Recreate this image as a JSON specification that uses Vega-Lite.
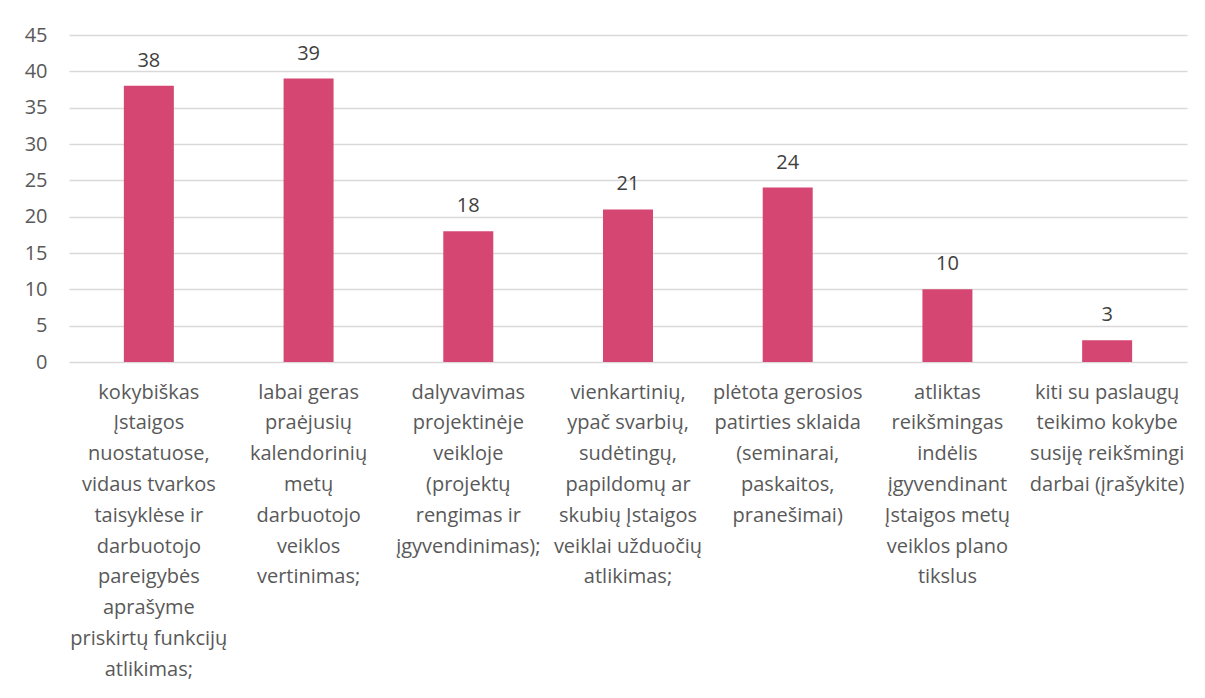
{
  "$schema": "https://vega.github.io/schema/vega-lite/v6.json",
  "width": 1118,
  "height": 327,
  "autosize": {"type": "none"},
  "padding": {"left": 69, "top": 35, "right": 18, "bottom": 336},
  "background": "white",
  "config": {
    "view": {"stroke": null},
    "font": "Open Sans"
  },
  "data": {
    "values": [
      {"category": "kokybiškas|Įstaigos|nuostatuose,|vidaus tvarkos|taisyklėse ir|darbuotojo|pareigybės|aprašyme|priskirtų funkcijų|atlikimas;", "value": 38},
      {"category": "labai geras|praėjusių|kalendorinių|metų|darbuotojo|veiklos|vertinimas;", "value": 39},
      {"category": "dalyvavimas|projektinėje|veikloje|(projektų|rengimas ir|įgyvendinimas);", "value": 18},
      {"category": "vienkartinių,|ypač svarbių,|sudėtingų,|papildomų ar|skubių Įstaigos|veiklai užduočių|atlikimas;", "value": 21},
      {"category": "plėtota gerosios|patirties sklaida|(seminarai,|paskaitos,|pranešimai)", "value": 24},
      {"category": "atliktas|reikšmingas|indėlis|įgyvendinant|Įstaigos metų|veiklos plano|tikslus", "value": 10},
      {"category": "kiti su paslaugų|teikimo kokybe|susiję reikšmingi|darbai (įrašykite)", "value": 3}
    ]
  },
  "encoding": {
    "x": {
      "field": "category",
      "type": "nominal",
      "sort": null,
      "scale": {"paddingInner": 0.687, "paddingOuter": 0.3435},
      "axis": {
        "title": null,
        "domain": false,
        "ticks": false,
        "labelAngle": 0,
        "labelExpr": "split(datum.value, '|')",
        "labelFontSize": 20,
        "labelLineHeight": 30.8,
        "labelColor": "#595959",
        "labelPadding": 20,
        "labelBaseline": "top",
        "labelLimit": 0,
        "labelOverlap": false,
        "labelBound": false
      }
    },
    "y": {
      "field": "value",
      "type": "quantitative",
      "scale": {"domain": [0, 45], "nice": false},
      "axis": {
        "title": null,
        "values": [0, 5, 10, 15, 20, 25, 30, 35, 40, 45],
        "domain": false,
        "ticks": false,
        "gridColor": "#d9d9d9",
        "gridWidth": 1.5,
        "labelFontSize": 20,
        "labelColor": "#595959",
        "labelPadding": 22
      }
    }
  },
  "layer": [
    {"mark": {"type": "bar", "color": "#D54672"}},
    {
      "mark": {"type": "text", "baseline": "alphabetic", "dy": -19, "fontSize": 20, "color": "#404040"},
      "encoding": {"text": {"field": "value", "type": "quantitative"}}
    }
  ]
}
